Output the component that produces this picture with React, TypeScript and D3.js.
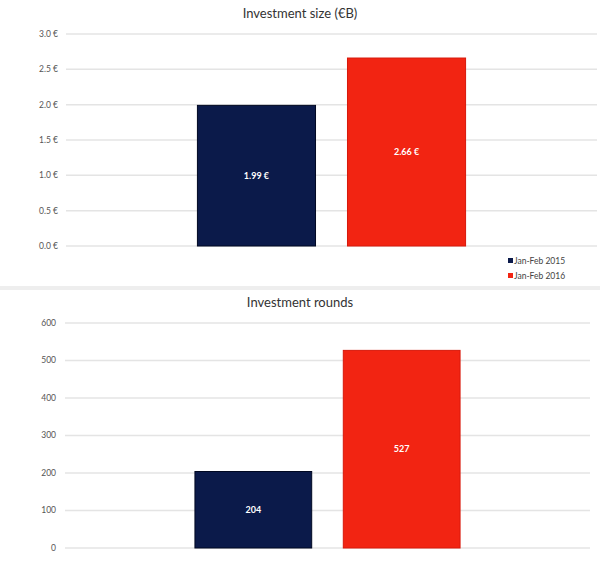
import React from "react";
import * as d3 from "d3";

const seriesNames = ["Jan-Feb 2015", "Jan-Feb 2016"];
const seriesColors = ["#0b1a4a", "#f22412"];
const seriesStroke = ["#000822", "#d8180a"];

const sizeValues = [1.99, 2.66];
const sizeLabels = ["1.99 €", "2.66 €"];
const sizeTicks = [0, 0.5, 1.0, 1.5, 2.0, 2.5, 3.0];

const roundsValues = [204, 527];
const roundsLabels = ["204", "527"];
const roundsTicks = [0, 100, 200, 300, 400, 500, 600];

const FONT = "Lato, 'Open Sans', 'Liberation Sans', sans-serif";

type PanelProps = {
  title: string;
  titleY: number;
  values: number[];
  labels: string[];
  ticks: number[];
  tickFmt: (v: number) => string;
  yTop: number;
  yBottom: number;
  xLeft: number;
  xRight: number;
  labelX: number;
};

function Panel(p: PanelProps) {
  const y = d3
    .scaleLinear()
    .domain([0, p.ticks[p.ticks.length - 1]])
    .range([p.yBottom, p.yTop]);
  const cx = (p.xLeft + p.xRight) / 2;
  const groupW = (p.xRight - p.xLeft) * 0.505;
  const x = d3
    .scaleBand<string>()
    .domain(seriesNames)
    .range([cx - groupW / 2, cx + groupW / 2])
    .paddingInner(0.213);
  return (
    <g>
      <text
        x={300}
        y={p.titleY}
        textAnchor="middle"
        fontSize={13}
        fill="#333"
        fontFamily={FONT}
      >
        {p.title}
      </text>
      {p.ticks.map((t) => (
        <g key={t}>
          <line
            x1={p.xLeft}
            x2={p.xRight}
            y1={y(t)}
            y2={y(t)}
            stroke="#e4e4e4"
            strokeWidth={1.5}
          />
          <text
            x={p.labelX}
            y={y(t)}
            dy="0.35em"
            textAnchor="end"
            fontSize={8.5}
            fill="#555"
            fontFamily={FONT}
          >
            {p.tickFmt(t)}
          </text>
        </g>
      ))}
      {p.values.map((v, i) => {
        const bx = x(seriesNames[i])!;
        const bw = x.bandwidth();
        const top = y(v);
        const bot = y(0);
        return (
          <g key={i}>
            <rect
              x={bx}
              y={top}
              width={bw}
              height={bot - top}
              fill={seriesColors[i]}
              stroke={seriesStroke[i]}
              strokeWidth={1}
            />
            <text
              x={bx + bw / 2}
              y={(top + bot) / 2}
              dy="0.35em"
              textAnchor="middle"
              fontSize={9}
              fontWeight="bold"
              fill="#fff"
              fontFamily={FONT}
            >
              {p.labels[i]}
            </text>
          </g>
        );
      })}
    </g>
  );
}

export default function App() {
  return (
    <svg
      width={600}
      height={576}
      style={{ position: "absolute", left: 0, top: 0, background: "#fff" }}
    >
      <rect x={0} y={0} width={600} height={576} fill="#fff" />
      <Panel
        title="Investment size (€B)"
        titleY={18}
        values={sizeValues}
        labels={sizeLabels}
        ticks={sizeTicks}
        tickFmt={(v) => d3.format(".1f")(v) + " €"}
        yTop={34}
        yBottom={246}
        xLeft={66}
        xRight={597}
        labelX={58}
      />
      {seriesNames.map((s, i) => (
        <g key={s}>
          <rect
            x={508}
            y={258 + i * 15}
            width={5}
            height={5}
            fill={seriesColors[i]}
          />
          <text
            x={514}
            y={261 + i * 15}
            dy="0.35em"
            fontSize={8.5}
            fill="#444"
            fontFamily={FONT}
          >
            {s}
          </text>
        </g>
      ))}
      <rect x={0} y={286} width={600} height={4} fill="#eeeeee" />
      <Panel
        title="Investment rounds"
        titleY={307}
        values={roundsValues}
        labels={roundsLabels}
        ticks={roundsTicks}
        tickFmt={(v) => String(v)}
        yTop={323}
        yBottom={548}
        xLeft={65}
        xRight={590}
        labelX={56}
      />
    </svg>
  );
}
